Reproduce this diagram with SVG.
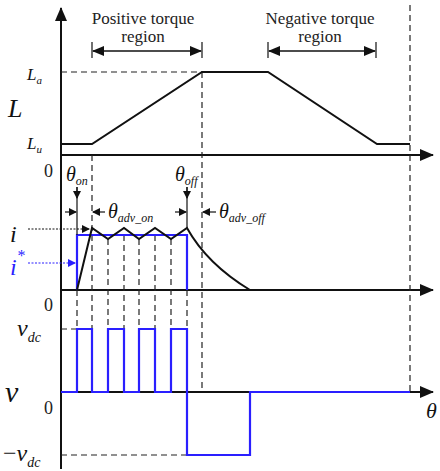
<svg xmlns="http://www.w3.org/2000/svg" width="440" height="471" viewBox="0 0 440 471" font-family="Liberation Serif, Times New Roman, serif">
<style>
.ax{stroke:#111;stroke-width:2;fill:none}
.tr{stroke:#111;stroke-width:2;fill:none;stroke-linejoin:miter}
.bl{stroke:#2a1fff;stroke-width:2.2;fill:none}
.ds{stroke:#222;stroke-width:1.2;stroke-dasharray:6,4;fill:none}
.th{stroke:#111;stroke-width:1.2;fill:none}
text{font-family:"Liberation Serif",serif}
.t{fill:#222}
.i{font-style:italic;fill:#111}
.ib{font-style:italic;fill:#2a1fff}
</style>
<defs>
<marker id="ah" markerWidth="8" markerHeight="8" refX="7" refY="4" orient="auto" markerUnits="userSpaceOnUse"><path d="M0,0 L8,4 L0,8 z" fill="#111"/></marker>
<marker id="ahb" markerWidth="8" markerHeight="8" refX="7" refY="4" orient="auto" markerUnits="userSpaceOnUse"><path d="M0,0 L8,4 L0,8 z" fill="#2a1fff"/></marker>
<marker id="big" markerWidth="14" markerHeight="12" refX="13" refY="6" orient="auto" markerUnits="userSpaceOnUse"><path d="M0,0 L14,6 L0,12 z" fill="#111"/></marker>
<marker id="mid" markerWidth="12" markerHeight="10" refX="11" refY="5" orient="auto-start-reverse" markerUnits="userSpaceOnUse"><path d="M0,0 L12,5 L0,10 z" fill="#111"/></marker>
</defs>

<g id="axes">
<line class="ax" x1="61" y1="469" x2="61" y2="8" marker-end="url(#big)"/>
<line class="ax" x1="61" y1="155" x2="433" y2="155" marker-end="url(#big)"/>
<line class="ax" x1="61" y1="290" x2="433" y2="290" marker-end="url(#big)"/>
<line class="ax" x1="61" y1="392" x2="433" y2="392" marker-end="url(#big)"/>
</g>

<g id="dashes">
<line class="ds" x1="61" y1="72" x2="202" y2="72"/>
<line class="ds" x1="92" y1="155" x2="92" y2="392"/>
<line class="ds" x1="202" y1="72" x2="202" y2="392"/>
<line class="ds" x1="410" y1="5" x2="410" y2="392"/>
<line class="ds" x1="77" y1="290" x2="77" y2="392"/>
<line class="ds" x1="187" y1="290" x2="187" y2="392"/>
<line class="ds" x1="108" y1="239" x2="108" y2="392"/>
<line class="ds" x1="124" y1="235" x2="124" y2="392"/>
<line class="ds" x1="139" y1="239" x2="139" y2="392"/>
<line class="ds" x1="155" y1="235" x2="155" y2="392"/>
<line class="ds" x1="171" y1="239" x2="171" y2="392"/>
<line class="ds" x1="61" y1="329" x2="77" y2="329"/>
<line class="ds" x1="61" y1="455" x2="187" y2="455"/>
</g>

<g id="regions">
<text class="t" x="143" y="24" font-size="17" text-anchor="middle">Positive torque</text>
<text class="t" x="143" y="42" font-size="17" text-anchor="middle">region</text>
<line class="th" x1="92" y1="42" x2="92" y2="58"/>
<line class="th" x1="202" y1="42" x2="202" y2="58"/>
<line x1="93" y1="51" x2="201" y2="51" stroke="#111" stroke-width="1.6" marker-start="url(#mid)" marker-end="url(#mid)"/>
<text class="t" x="320" y="24" font-size="17" text-anchor="middle">Negative torque</text>
<text class="t" x="320" y="42" font-size="17" text-anchor="middle">region</text>
<line class="th" x1="268" y1="42" x2="268" y2="58"/>
<line class="th" x1="376" y1="42" x2="376" y2="58"/>
<line x1="269" y1="51" x2="375" y2="51" stroke="#111" stroke-width="1.6" marker-start="url(#mid)" marker-end="url(#mid)"/>
</g>

<g id="inductance">
<polyline class="tr" points="61,144 92,144 202,72 268,72 377,144 410,144"/>
<text class="i" x="27" y="80" font-size="17">L<tspan font-size="11" dy="4">a</tspan></text>
<text class="i" x="8" y="117" font-size="26">L</text>
<text class="i" x="27" y="149" font-size="17">L<tspan font-size="11" dy="4">u</tspan></text>
<text class="t" x="44" y="177" font-size="18">0</text>
</g>

<g id="current">
<polyline class="bl" points="77,290 77,235 187,235 187,290"/>
<path class="tr" d="M77,290 L92,228 L108,239 L124,228 L139,239 L155,228 L171,239 L187,228 Q207,264 250,290"/>
<text class="i" x="10" y="242" font-size="24">i</text>
<line x1="28" y1="229" x2="89" y2="229" stroke="#111" stroke-width="1" stroke-dasharray="2,1.5" marker-end="url(#ah)"/>
<text class="ib" x="10" y="275" font-size="24">i<tspan font-size="16" dy="-14">*</tspan></text>
<line x1="28" y1="263" x2="75" y2="263" stroke="#2a1fff" stroke-width="1" stroke-dasharray="2,1.5" marker-end="url(#ahb)"/>
<text class="t" x="44" y="311" font-size="18">0</text>
</g>

<g id="angles">
<text class="i" x="66" y="181" font-size="20">θ<tspan font-size="12" dy="4">on</tspan></text>
<line class="th" x1="77" y1="187" x2="77" y2="235"/>
<line x1="77" y1="187" x2="77" y2="198" stroke="#111" stroke-width="1.2" marker-end="url(#ah)"/>
<line x1="65" y1="212" x2="76" y2="212" stroke="#111" stroke-width="1.2" marker-end="url(#ah)"/>
<line x1="105" y1="212" x2="93" y2="212" stroke="#111" stroke-width="1.2" marker-end="url(#ah)"/>
<text class="i" x="108" y="218" font-size="20">θ<tspan font-size="12" dy="4">adv_on</tspan></text>
<text class="i" x="175" y="181" font-size="20">θ<tspan font-size="12" dy="4">off</tspan></text>
<line class="th" x1="187" y1="187" x2="187" y2="228"/>
<line x1="187" y1="187" x2="187" y2="198" stroke="#111" stroke-width="1.2" marker-end="url(#ah)"/>
<line x1="175" y1="212" x2="186" y2="212" stroke="#111" stroke-width="1.2" marker-end="url(#ah)"/>
<line x1="216" y1="212" x2="203" y2="212" stroke="#111" stroke-width="1.2" marker-end="url(#ah)"/>
<text class="i" x="219" y="218" font-size="20">θ<tspan font-size="12" dy="4">adv_off</tspan></text>
</g>

<g id="voltage">
<polyline class="bl" points="61,392 77,392 77,329 92,329 92,392 108,392 108,329 124,329 124,392 139,392 139,329 155,329 155,392 171,392 171,329 187,329 187,455 250,455 250,392 410,392"/>
<text class="i" x="17" y="336" font-size="24">v<tspan font-size="14" dy="6">dc</tspan></text>
<text class="i" x="5" y="402" font-size="30">v</text>
<text class="t" x="44" y="414" font-size="18">0</text>
<text class="i" x="3" y="461" font-size="24"><tspan font-style="normal">−</tspan>v<tspan font-size="14" dy="6">dc</tspan></text>
<text class="i" x="426" y="418" font-size="22">θ</text>
</g>
</svg>
